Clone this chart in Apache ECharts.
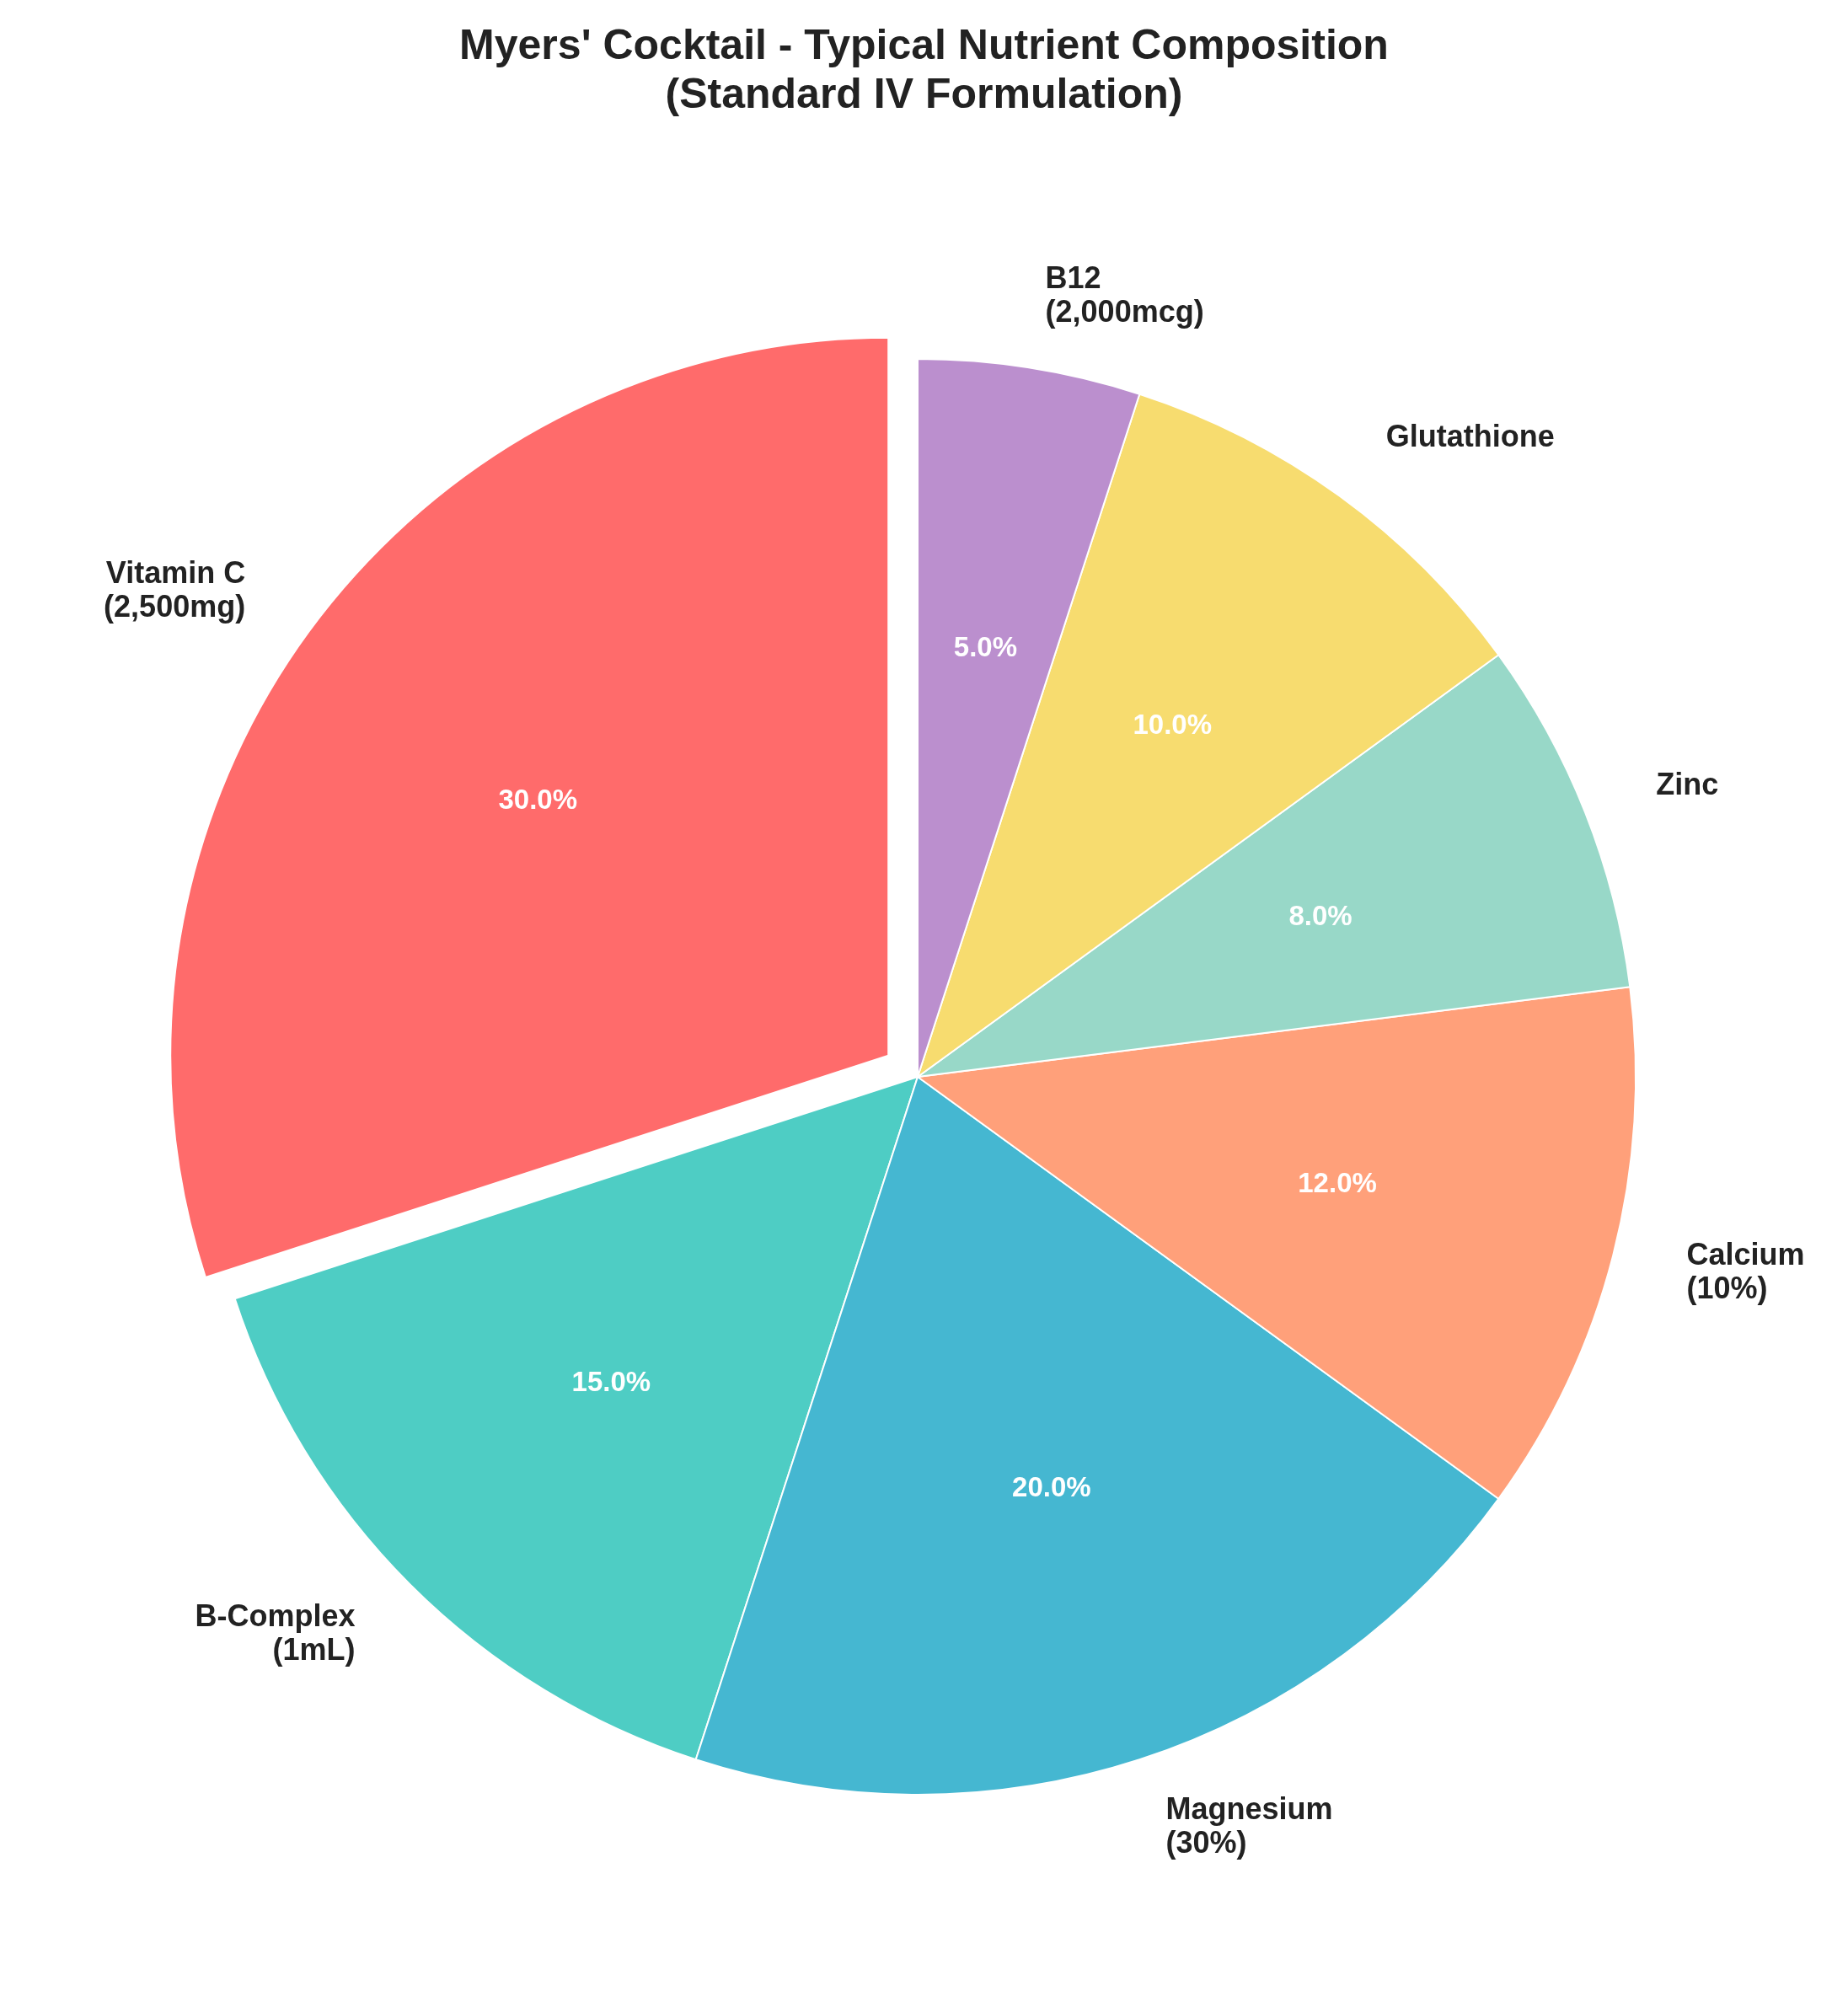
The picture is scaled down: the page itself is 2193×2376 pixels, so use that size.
<!DOCTYPE html>
<html>
<head>
<meta charset="utf-8">
<script src="https://cdn.jsdelivr.net/npm/echarts@6/dist/echarts.min.js"></script>
<style>html,body{margin:0;background:#fff}#chart{width:2193px;height:2376px}</style>
</head>
<body>
<div id="chart"></div>
<script>
var nutrients = ['Vitamin C\n(2,500mg)', 'B-Complex\n(1mL)', 'Magnesium\n(30%)', 'Calcium\n(10%)', 'Zinc', 'Glutathione', 'B12\n(2,000mcg)'];
var shares = [30, 15, 20, 12, 8, 10, 5];
var colors = ['#FF6B6B', '#4ECDC4', '#45B7D1', '#FFA07A', '#98D8C8', '#F7DC6F', '#BB8FCE'];

var R = 852;
var center = [1089, 1278];

function items(transparent) {
  return nutrients.map(function (n, i) {
    return {
      name: n,
      value: shares[i],
      selected: i === 0,
      itemStyle: transparent ? { color: 'rgba(0,0,0,0)', borderWidth: 0 } : { color: colors[i] }
    };
  });
}

var chart = echarts.init(document.getElementById('chart'));
chart.setOption({
  animation: false,
  title: {
    text: "Myers' Cocktail - Typical Nutrient Composition\n(Standard IV Formulation)",
    left: 'center',
    top: 22,
    textStyle: { fontFamily: 'Liberation Sans', fontSize: 50, fontWeight: 'bold', color: '#222', lineHeight: 58 }
  },
  series: [
    {
      type: 'pie',
      center: center,
      radius: [0, R],
      startAngle: 90,
      clockwise: false,
      selectedMode: 'single',
      selectedOffset: 43,
      itemStyle: { borderColor: '#fff', borderWidth: 2 },
      label: {
        position: 'outside',
        fontFamily: 'Liberation Sans',
        fontSize: 36,
        fontWeight: 'bold',
        color: '#222',
        lineHeight: 40
      },
      labelLine: { show: false, length: 85, length2: 0 },
      emphasis: { disabled: true },
      data: items(false)
    },
    {
      type: 'pie',
      center: center,
      radius: [0, R * 1.2],
      startAngle: 90,
      clockwise: false,
      selectedMode: 'single',
      selectedOffset: 43,
      silent: true,
      label: {
        position: 'inside',
        formatter: function (p) { return p.value.toFixed(1) + '%'; },
        fontFamily: 'Liberation Sans',
        fontSize: 33,
        fontWeight: 'bold',
        color: '#fff'
      },
      labelLine: { show: false },
      emphasis: { disabled: true },
      data: items(true)
    }
  ]
});
</script>
</body>
</html>
